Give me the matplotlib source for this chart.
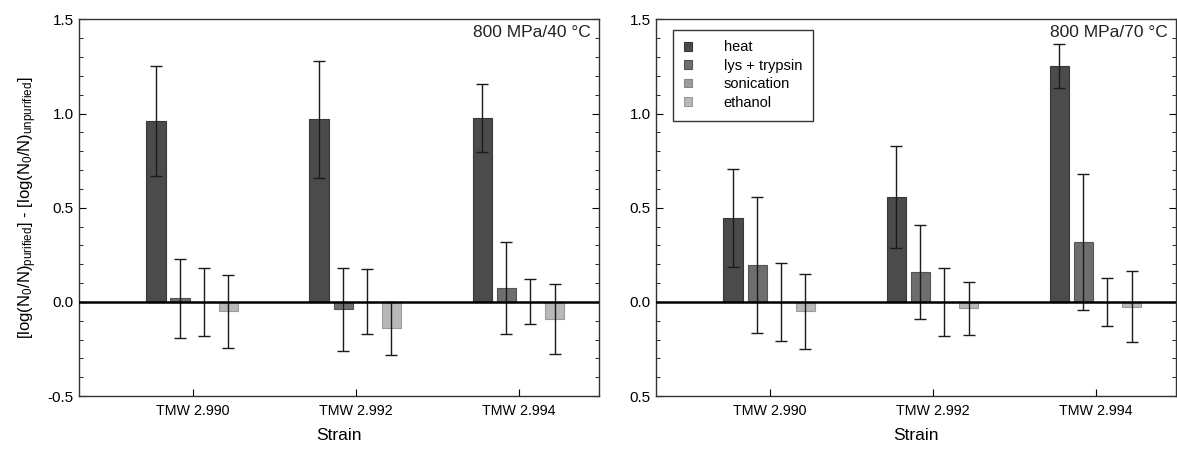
import numpy as np
import matplotlib
matplotlib.use('Agg')
import matplotlib.pyplot as plt
from matplotlib.ticker import MultipleLocator, FixedLocator, FixedFormatter

plt.rcParams['font.family'] = ['Liberation Sans', 'DejaVu Sans']
plt.rcParams['mathtext.default'] = 'regular'

# data
strains = ['TMW 2.990', 'TMW 2.992', 'TMW 2.994']
methods = ['heat', 'lys + trypsin', 'sonication', 'ethanol']

# 800 MPa / 40 C
vals_40 = {
    'heat':          [0.96, 0.97, 0.975],
    'lys + trypsin': [0.02, -0.04, 0.075],
    'sonication':    [0.0, 0.0, 0.0],
    'ethanol':       [-0.05, -0.14, -0.09],
}
err_40 = {
    'heat':          [0.29, 0.31, 0.18],
    'lys + trypsin': [0.21, 0.22, 0.245],
    'sonication':    [0.18, 0.172, 0.12],
    'ethanol':       [0.195, 0.14, 0.186],
}

# 800 MPa / 70 C
vals_70 = {
    'heat':          [0.445, 0.555, 1.25],
    'lys + trypsin': [0.195, 0.158, 0.318],
    'sonication':    [0.0, 0.0, 0.0],
    'ethanol':       [-0.05, -0.035, -0.025],
}
err_70 = {
    'heat':          [0.26, 0.27, 0.117],
    'lys + trypsin': [0.36, 0.25, 0.362],
    'sonication':    [0.207, 0.181, 0.128],
    'ethanol':       [0.2, 0.14, 0.19],
}

colors = ['#4b4b4b', '#6e6e6e', '#9c9c9c', '#b8b8b8']
edges = ['#383838', '#555555', '#858585', '#9a9a9a']


def draw_panel(ax, vals, errs, title, ylabels=None):
    x = np.arange(1, len(strains) + 1)
    step = 0.148
    width = 0.118
    for i, m in enumerate(methods):
        pos = x + (i - 1.5) * step - 0.003
        ax.bar(pos, vals[m], width=width, color=colors[i], edgecolor=edges[i],
               linewidth=0.8, label=m, zorder=2)
        ax.errorbar(pos, vals[m], yerr=errs[m], fmt='none', ecolor='#1a1a1a',
                    elinewidth=1, capsize=4.5, capthick=1, zorder=3)
    ax.axhline(0, color='black', lw=1.8, zorder=4)
    ax.set_xlim(0.3, 3.49)
    ax.set_ylim(-0.5, 1.5)
    ax.set_xticks(x)
    ax.set_xticklabels(strains, fontsize=10.3)
    ax.yaxis.set_major_locator(MultipleLocator(0.5))
    ax.yaxis.set_minor_locator(MultipleLocator(0.1))
    if ylabels is not None:
        ax.yaxis.set_major_locator(FixedLocator([-0.5, 0.0, 0.5, 1.0, 1.5]))
        ax.yaxis.set_major_formatter(FixedFormatter(ylabels))
    else:
        ax.yaxis.set_major_formatter(plt.FuncFormatter(lambda v, p: '%.1f' % v))
    ax.tick_params(axis='y', which='both', direction='in', right=True, labelsize=11)
    ax.tick_params(axis='y', which='major', length=5)
    ax.tick_params(axis='y', which='minor', length=3)
    ax.tick_params(axis='x', direction='in', length=5, pad=6)
    for s in ax.spines.values():
        s.set_color('#333333')
        s.set_linewidth(1)
    ax.set_xlabel('Strain', fontsize=12.5, labelpad=7)
    ax.text(0.985, 0.984, title, transform=ax.transAxes, ha='right', va='top',
            fontsize=12.5, color='#222222')


fig = plt.figure(figsize=(11.77, 4.5), dpi=100)
ax1 = fig.add_axes([0.0667, 0.12, 0.442, 0.837])
ax2 = fig.add_axes([0.557, 0.12, 0.442, 0.837])

draw_panel(ax1, vals_40, err_40, '800 MPa/40 °C')
draw_panel(ax2, vals_70, err_70, '800 MPa/70 °C',
           ylabels=['0.5', '0.0', '0.5', '1.0', '1.5'])

ax1.set_ylabel('[log(N$_0$/N)$_{purified}$] - [log(N$_0$/N)$_{unpurified}$]',
               fontsize=12, labelpad=6)

leg = ax2.legend(loc='upper left', bbox_to_anchor=(0.033, 0.973), borderaxespad=0,
                 fontsize=10.5, handlelength=0.55, handleheight=0.55,
                 handletextpad=2.2, labelspacing=0.3, borderpad=0.75,
                 fancybox=False, framealpha=1, edgecolor='#333333')
leg.get_frame().set_linewidth(1)

fig.savefig('out.png', dpi=100)
